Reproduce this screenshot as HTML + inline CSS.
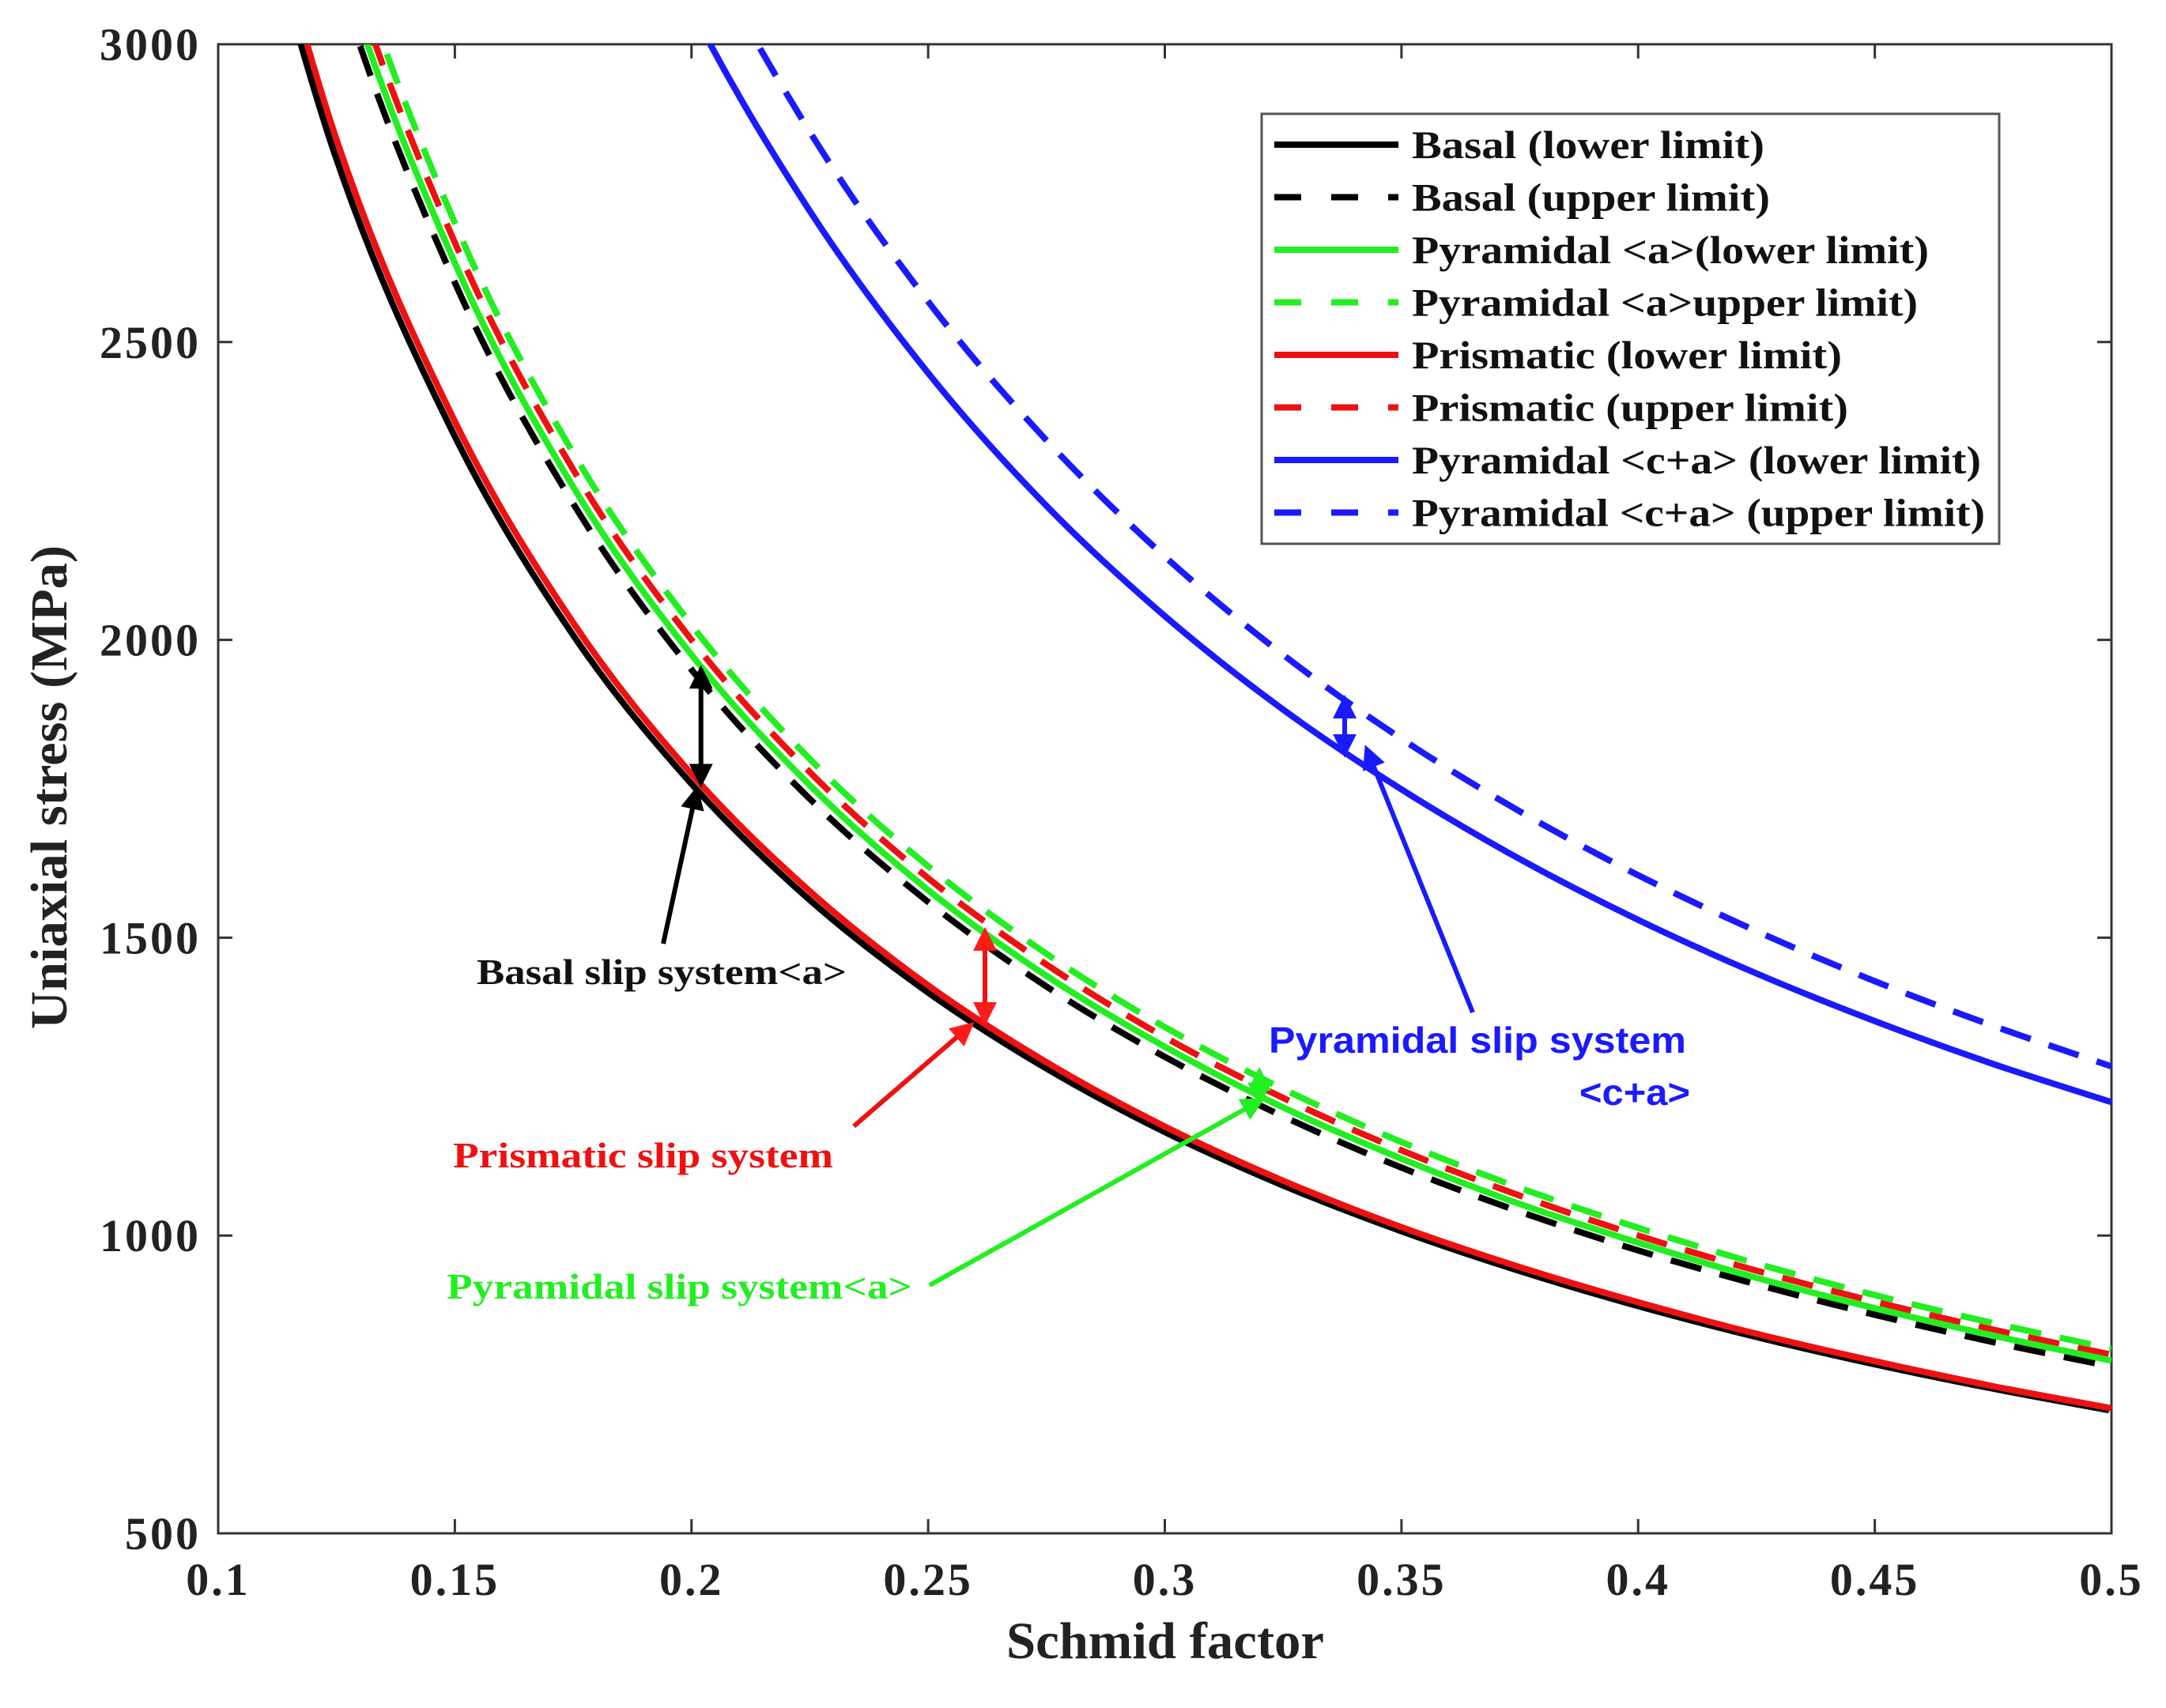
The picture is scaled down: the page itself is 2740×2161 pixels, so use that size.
<!DOCTYPE html>
<html><head><meta charset="utf-8"><style>
html,body{margin:0;padding:0;background:#fff;}
svg text{font-family:"Liberation Serif",serif;font-weight:bold;}
</style></head><body>
<svg id="chart" width="2740" height="2156" viewBox="0 0 2740 2156" xmlns="http://www.w3.org/2000/svg">
<defs>
<clipPath id="plotclip"><rect x="276" y="56" width="2395" height="1884"/></clipPath>
<marker id="ah-k" markerWidth="5" markerHeight="5" refX="4" refY="2.5" orient="auto-start-reverse"><path d="M0,0 L5,2.5 L0,5 Z" fill="#000"/></marker>
<marker id="ah-r" markerWidth="5" markerHeight="5" refX="4" refY="2.5" orient="auto-start-reverse"><path d="M0,0 L5,2.5 L0,5 Z" fill="#ff1a1a"/></marker>
<marker id="ah-g" markerWidth="5" markerHeight="5" refX="4" refY="2.5" orient="auto-start-reverse"><path d="M0,0 L5,2.5 L0,5 Z" fill="#22ee22"/></marker>
<marker id="ah-b" markerWidth="5" markerHeight="5" refX="4" refY="2.5" orient="auto-start-reverse"><path d="M0,0 L5,2.5 L0,5 Z" fill="#1a1aff"/></marker>
</defs>
<rect x="276" y="56" width="2395" height="1884" fill="#fff" stroke="#333" stroke-width="3"/>
<g id="axes"></g>
<g id="series" clip-path="url(#plotclip)"></g>
<g id="annotations"></g>
<g id="legend"></g>
<text x="1474" y="2098" font-size="66" text-anchor="middle" fill="#222" textLength="402" lengthAdjust="spacingAndGlyphs">Schmid factor</text>
<text transform="translate(84,996) rotate(-90)" font-size="66" text-anchor="middle" fill="#222" textLength="612" lengthAdjust="spacingAndGlyphs">Uniaxial stress (MPa)</text>
</svg>
<script>
const schmid = [0.1,0.125,0.15,0.175,0.2,0.225,0.25,0.275,0.3,0.325,0.35,0.375,0.4,0.425,0.45,0.475,0.5];
const basalLower = [3520,2816,2347,2011,1760,1564,1408,1280,1173,1083,1006,939,880,828,782,741,704];
const basalUpper = [3900,3120,2600,2229,1950,1733,1560,1418,1300,1200,1114,1040,975,918,867,821,780];
const pyrALower = [3950,3160,2633,2257,1975,1756,1580,1436,1317,1215,1129,1053,988,929,878,832,790];
const pyrAUpper = [4050,3240,2700,2314,2025,1800,1620,1473,1350,1246,1157,1080,1013,953,900,853,810];
const prisLower = [3550,2840,2367,2029,1775,1578,1420,1291,1183,1092,1014,947,888,835,789,747,710];
const prisUpper = [4000,3200,2667,2286,2000,1778,1600,1455,1333,1231,1143,1067,1000,941,889,842,800];
const pyrCALower = [6120,4896,4080,3497,3060,2720,2448,2225,2040,1883,1749,1632,1530,1440,1360,1288,1224];
const pyrCAUpper = [6420,5136,4280,3669,3210,2853,2568,2335,2140,1975,1834,1712,1605,1511,1427,1352,1284];
const xTicks = [0.1,0.15,0.2,0.25,0.3,0.35,0.4,0.45,0.5];
const xTickLabels = ["0.1","0.15","0.2","0.25","0.3","0.35","0.4","0.45","0.5"];
const yTicks = [500,1000,1500,2000,2500,3000];
const yTickLabels = ["500","1000","1500","2000","2500","3000"];
const legendLabels = ["Basal (lower limit)","Basal (upper limit)","Pyramidal <a>(lower limit)","Pyramidal <a>upper limit)","Prismatic (lower limit)","Prismatic (upper limit)","Pyramidal <c+a> (lower limit)","Pyramidal <c+a> (upper limit)"];
const legendWidths = [446,453,654,640,544,552,720,725];

const NS="http://www.w3.org/2000/svg";
const L=276,R=2671,T=56,B=1940;
function xs(v){return L+(v-0.1)/(0.5-0.1)*(R-L);}
function ys(v){return B-(v-500)/(3000-500)*(B-T);}
function mk(tag,attrs,parent){const e=document.createElementNS(NS,tag);for(const k in attrs)e.setAttribute(k,attrs[k]);parent.appendChild(e);return e;}

const axes=document.getElementById('axes');
xTicks.forEach((t,i)=>{
  const x=xs(t);
  const a=mk('line',{x1:x,y1:B,x2:x,y2:B-18,stroke:'#333','stroke-width':3},axes);
  
  
  const b=mk('line',{x1:x,y1:T,x2:x,y2:T+18,stroke:'#333','stroke-width':3},axes);
  
  
  const tx=mk('text',{x:x,y:2018,'font-size':58,'text-anchor':'middle',fill:'#222','letter-spacing':3},axes);
  tx.textContent=xTickLabels[i];
  
  
});
yTicks.forEach((t,i)=>{
  const y=ys(t);
  const a=mk('line',{x1:L,y1:y,x2:L+18,y2:y,stroke:'#333','stroke-width':3},axes);
  
  
  const b=mk('line',{x1:R,y1:y,x2:R-18,y2:y,stroke:'#333','stroke-width':3},axes);
  
  
  const tx=mk('text',{x:254,y:y+20,'font-size':58,'text-anchor':'end',fill:'#222','letter-spacing':3},axes);
  tx.textContent=yTickLabels[i];
  
  
});

function pathFor(vals){
  const p=schmid.map((s,i)=>[xs(s),ys(vals[i])]);
  let d='M'+p[0][0]+','+p[0][1];
  for(let i=0;i<p.length-1;i++){
    const p0=p[Math.max(0,i-1)],p1=p[i],p2=p[i+1],p3=p[Math.min(p.length-1,i+2)];
    const c1=[p1[0]+(p2[0]-p0[0])/6,p1[1]+(p2[1]-p0[1])/6];
    const c2=[p2[0]-(p3[0]-p1[0])/6,p2[1]-(p3[1]-p1[1])/6];
    d+=' C'+c1[0]+','+c1[1]+' '+c2[0]+','+c2[1]+' '+p2[0]+','+p2[1];
  }
  return d;
}
const seriesDefs=[
  [basalUpper,'#000',true,'basal-upper-line'],
  [prisUpper,'#ee1111',true,'prismatic-upper-line'],
  [pyrAUpper,'#22ee22',true,'pyramidal-a-upper-line'],
  [pyrALower,'#22ee22',false,'pyramidal-a-lower-line'],
  [basalLower,'#000',false,'basal-lower-line'],
  [prisLower,'#ee1111',false,'prismatic-lower-line'],
  [pyrCAUpper,'#1a1aff',true,'pyramidal-ca-upper-line'],
  [pyrCALower,'#1a1aff',false,'pyramidal-ca-lower-line']
];
const sg=document.getElementById('series');
seriesDefs.forEach(([vals,col,dash,name],k)=>{
  const attrs={d:pathFor(vals),fill:'none',stroke:col,'stroke-width':8};
  if(dash)attrs['stroke-dasharray']='40 24';
  const pth=mk('path',attrs,sg);
  if(k===4)pth.setAttribute('transform','translate(-3,-2)');
  
  
});

const lg=document.getElementById('legend');
const box=mk('rect',{x:1596,y:144,width:933,height:544,fill:'#fff',stroke:'#555','stroke-width':3},lg);


const legCols=['#000','#000','#22ee22','#22ee22','#ee1111','#ee1111','#1a1aff','#1a1aff'];
legendLabels.forEach((lab,i)=>{
  const y=183+i*66.5;
  const attrs={x1:1612,y1:y,x2:1769,y2:y,stroke:legCols[i],'stroke-width':8};
  if(i%2===1)attrs['stroke-dasharray']='34 38';
  const ln=mk('line',attrs,lg);
  
  
  const tx=mk('text',{x:1786,y:y+17,'font-size':50,fill:'#111',textLength:legendWidths[i],lengthAdjust:'spacingAndGlyphs'},lg);
  tx.textContent=lab;
  
  
});

const an=document.getElementById('annotations');
function arrow(x1,y1,x2,y2,col,mid,name){
  const ln=mk('line',{x1:x1,y1:y1,x2:x2,y2:y2,stroke:col,'stroke-width':6,'marker-end':'url(#ah-'+mid+')'},an);
  
  
}
function dbl(x,v1,v2,col,mid,name){
  const ln=mk('line',{x1:xs(x),y1:ys(v1),x2:xs(x),y2:ys(v2),stroke:col,'stroke-width':6,'marker-end':'url(#ah-'+mid+')','marker-start':'url(#ah-'+mid+')'},an);
  
  
}
dbl(0.202,1760,1950,'#000','k','basal-range-arrow');
dbl(0.262,1360,1510,'#ee1111','r','prismatic-range-arrow');
dbl(0.32,1225,1275,'#22ee22','g','pyramidal-a-range-arrow');
dbl(0.338,1810,1900,'#1a1aff','b','pyramidal-ca-range-arrow');
arrow(839,1194,881,1000,'#000','k','basal-pointer-arrow');
arrow(1080,1425,1228,1297,'#ee1111','r','prismatic-pointer-arrow');
arrow(1176,1626,1595,1392,'#22ee22','g','pyramidal-a-pointer-arrow');
arrow(1863,1281,1729,948,'#1a1aff','b','pyramidal-ca-pointer-arrow');
function label(x,y,txt,col,name,w,sans){
  const t=mk('text',{x:x,y:y,'font-size':sans?46:46,fill:col,textLength:w,lengthAdjust:'spacingAndGlyphs'},an);
  if(sans)t.setAttribute('style','font-family:"Liberation Sans",sans-serif;font-weight:bold');
  t.textContent=txt;
  
  
}
label(603,1245,'Basal slip system<a>','#111','basal-annotation',468);
label(573,1477,'Prismatic slip system','#ee1111','prismatic-annotation',481);
label(565,1643,'Pyramidal slip system<a>','#22ee22','pyramidal-a-annotation',589);
label(1605,1332,'Pyramidal slip system','#1a1aff','pyramidal-ca-annotation',528,true);
label(1998,1398,'<c+a>','#1a1aff','pyramidal-ca-annotation-line2',140,true);
</script>
</body></html>
